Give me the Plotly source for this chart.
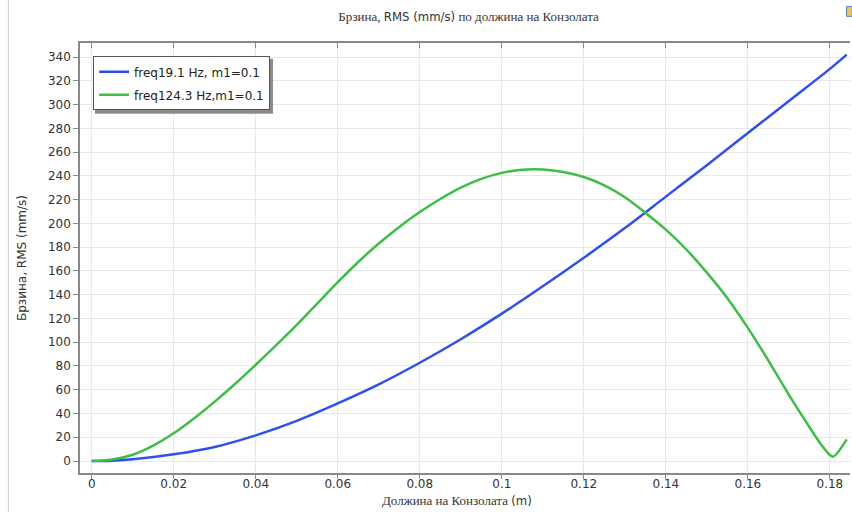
import plotly.graph_objects as go

# ---- data ----
x_blue = [0, 0.005, 0.01, 0.02, 0.03, 0.04, 0.05, 0.06, 0.07, 0.08, 0.09, 0.10,
          0.11, 0.12, 0.13, 0.14, 0.15, 0.16, 0.17, 0.18, 0.1841]
y_blue = [0, 0.3, 1.4, 5.6, 11.8, 21.6, 33.8, 48.5, 64.5, 82.7, 102.5, 124,
          147, 171, 196, 222.5, 249, 276, 303, 330, 342]

x_green = [0, 0.005, 0.01, 0.015, 0.02, 0.025, 0.03, 0.035, 0.04, 0.045, 0.05, 0.055,
           0.06, 0.065, 0.07, 0.075, 0.08, 0.085, 0.09, 0.095, 0.10, 0.105, 0.11,
           0.115, 0.12, 0.125, 0.13, 0.135, 0.14, 0.145, 0.15, 0.155, 0.16, 0.165,
           0.17, 0.175, 0.178, 0.18, 0.1808, 0.1841]
y_green = [0, 1.2, 5.3, 13, 23.3, 36, 50, 65, 81, 97.5, 114.5, 132.5,
           150.5, 167.5, 183, 197, 209.5, 220.5, 230, 237.5, 242.5, 245.2, 245.4,
           243.3, 239, 232, 222, 209, 194.7, 178, 158.5, 137, 112, 84.5,
           55.7, 28.6, 13.2, 5, 3.7, 18.2]

name_blue = "freq19.1 Hz, m1=0.1"
name_green = "freq124.3 Hz,m1=0.1"

x_ticks = [0, 0.02, 0.04, 0.06, 0.08, 0.1, 0.12, 0.14, 0.16, 0.18]
x_ticktext = ["0", "0.02", "0.04", "0.06", "0.08", "0.1", "0.12", "0.14", "0.16", "0.18"]
y_ticks = list(range(0, 341, 20))

title_txt = ('<span style="font-family:Liberation Serif">Брзина, </span>RMS (mm/s)'
             '<span style="font-family:Liberation Serif"> по должина на Конзолата</span>')
xtitle_txt = ('<span style="font-family:Liberation Serif">Должина на Конзолата </span>(m)')
ytitle_txt = 'Брзина, RMS (mm/s)'

fig = go.Figure()
fig.add_trace(go.Scatter(x=x_blue, y=y_blue, mode="lines", name=name_blue, legendgroup="a",
                         line=dict(color="#2f4ff0", width=2.5, shape="spline", smoothing=1.0)))
fig.add_trace(go.Scatter(x=x_green, y=y_green, mode="lines", name=name_green, legendgroup="b",
                         line=dict(color="#3dbe45", width=2.5, shape="spline", smoothing=1.0)))

axis_font = dict(family="DejaVu Sans", size=12, color="#333333")

fig.update_layout(
    width=852, height=512,
    margin=dict(l=80, r=2, t=43, b=39),
    paper_bgcolor="white", plot_bgcolor="white",
    title=dict(text=title_txt, x=0.55, xanchor="center", y=0.967, yanchor="middle",
               font=dict(family="DejaVu Sans Condensed", size=13, color="#333333")),
    showlegend=True,
    legend=dict(x=0.017, y=0.969, xanchor="left", yanchor="top",
                bgcolor="white", bordercolor="#555555", borderwidth=1,
                font=dict(family="DejaVu Sans", size=12, color="#222222"),
                tracegroupgap=4, itemwidth=30),
    xaxis=dict(range=[-0.00285, 0.1849], tickvals=x_ticks, ticktext=x_ticktext,
               showgrid=True, gridcolor="#e8e8e8", gridwidth=1, zeroline=False,
               showline=True, linecolor="#888888", linewidth=1.5,
               ticks="outside", ticklen=4, tickcolor="#888888",
               ticklabelstandoff=-5,
               tickfont=axis_font),
    xaxis2=dict(range=[-0.00285, 0.1849], tickvals=x_ticks, overlaying="x", side="top",
                showgrid=False, zeroline=False, showticklabels=False,
                showline=True, linecolor="#888888", linewidth=1.5,
                ticks="inside", ticklen=5, tickcolor="#888888"),
    yaxis=dict(range=[-10.1, 351.8], tickvals=y_ticks,
               showgrid=True, gridcolor="#e8e8e8", gridwidth=1, zeroline=False,
               showline=True, linecolor="#888888", linewidth=1.5,
               ticks="outside", ticklen=5, tickcolor="#888888",
               tickfont=axis_font,
               title=dict(text=ytitle_txt, standoff=19,
                          font=dict(family="DejaVu Sans", size=12, color="#333333"))),
)

# x-axis title placed as annotation for exact vertical position
fig.add_annotation(text=xtitle_txt, xref="paper", yref="paper", x=0.49, y=-0.064,
                   xanchor="center", yanchor="middle", showarrow=False,
                   font=dict(family="DejaVu Sans Condensed", size=13, color="#333333"))

# dummy trace to make the top axis render
fig.add_trace(go.Scatter(x=[None], y=[None], xaxis="x2", showlegend=False, hoverinfo="skip"))

# legend drop shadow
fig.add_shape(type="rect", xref="paper", yref="paper", x0=0.0195, x1=0.2506, y0=0.8356, y1=0.9635,
              fillcolor="#8a8a8a", line=dict(width=0), layer="above")
# window border line at the left
fig.add_shape(type="line", xref="paper", yref="paper", x0=-0.093, x1=-0.093, y0=-0.09, y1=1.1,
              line=dict(color="#d0d0d0", width=1))
# small icon at top right
fig.add_shape(type="rect", xref="paper", yref="paper", x0=0.9955, x1=1.003, y0=1.062, y1=1.085,
              fillcolor="#e9c75a", line=dict(color="#5b7fc0", width=1))

fig.write_html("out.html", config={"displayModeBar": False},
               post_script="document.body.style.margin='0';document.body.style.overflow='hidden';")
